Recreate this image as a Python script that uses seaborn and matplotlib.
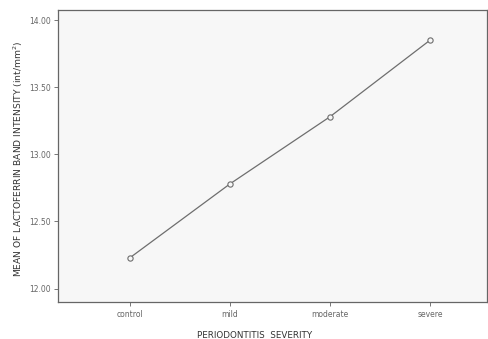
import pandas as pd
import matplotlib.pyplot as plt
import seaborn as sns

severity = ['control', 'mild', 'moderate', 'severe']
mean_intensity = [12.23, 12.78, 13.28, 13.85]
y_ticks = [12.00, 12.50, 13.00, 13.50, 14.00]

df = pd.DataFrame({'severity': severity, 'mean': mean_intensity})

sns.set_theme(style='white')
plt.rcParams['font.family'] = ['DejaVu Sans']

fig = plt.figure(figsize=(4.88, 3.39), dpi=100)
ax = fig.add_axes([58 / 488, 37 / 339, 429 / 488, 292 / 339])
ax.set_facecolor('#f7f7f7')

sns.lineplot(data=df, x='severity', y='mean', ax=ax, sort=False,
             color='#6e6e6e', linewidth=0.9, marker='o', markersize=3.8,
             markerfacecolor='#f7f7f7', markeredgecolor='#6e6e6e', markeredgewidth=0.8)

ax.set_xlim(-0.72, 3.57)
ax.set_ylim(11.90, 14.075)
ax.set_yticks(y_ticks)
ax.set_yticklabels(['{:.2f}'.format(v) for v in y_ticks])

for s in ax.spines.values():
    s.set_color('#666666')
    s.set_linewidth(0.9)

ax.tick_params(axis='both', which='both', direction='out', length=3, width=0.7,
               color='#777777', labelsize=5.5, labelcolor='#666666', pad=2)
ax.tick_params(axis='x', bottom=True, pad=3)
ax.tick_params(axis='y', left=True)

ax.set_xlabel('PERIODONTITIS  SEVERITY', fontsize=6.3, color='#333333')
ax.xaxis.set_label_coords(0.459, -0.1)
ax.set_ylabel('MEAN OF LACTOFERRIN BAND INTENSITY (int/mm$^2$)', fontsize=6.6, color='#333333')
ax.yaxis.set_label_coords(-0.078, 0.49)

fig.savefig('out.png', dpi=100, facecolor='white')
